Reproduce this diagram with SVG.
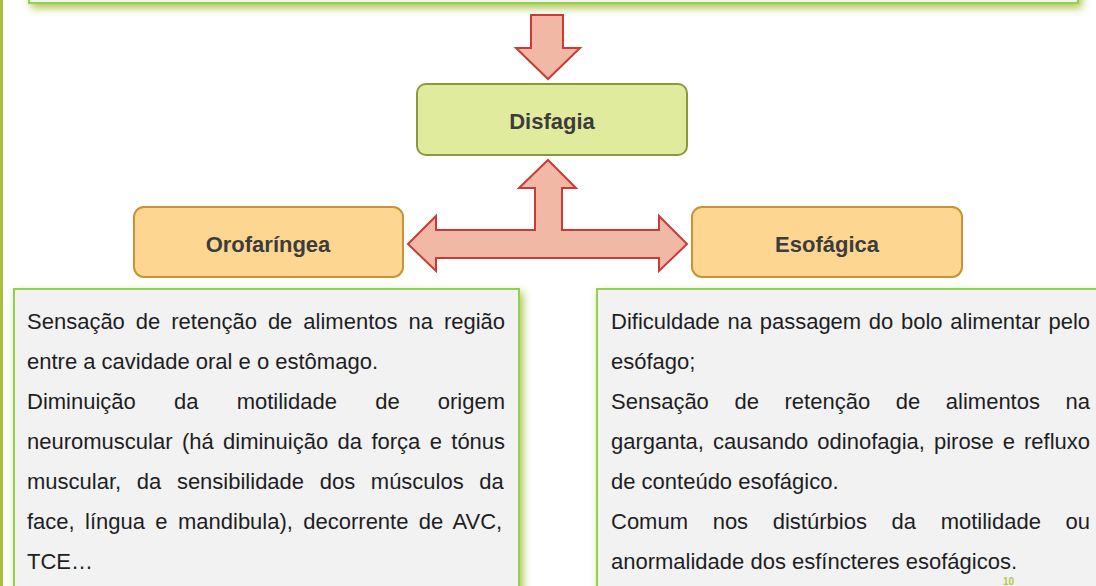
<svg xmlns="http://www.w3.org/2000/svg" width="1096" height="586" viewBox="0 0 1096 586">
<defs>
<filter id="glow" x="-10%" y="-10%" width="120%" height="130%">
<feGaussianBlur in="SourceAlpha" stdDeviation="4" result="b"/>
<feOffset in="b" dx="3" dy="4" result="o"/>
<feFlood flood-color="#9dbb2c" flood-opacity="0.85"/>
<feComposite in2="o" operator="in" result="s"/>
<feMerge><feMergeNode in="s"/><feMergeNode in="SourceGraphic"/></feMerge>
</filter>
</defs>
<style>
.panel{fill:#f2f2f2;stroke:#92d050;stroke-width:2}
.green{fill:#e1eb9d;stroke:#8a9a3a;stroke-width:2}
.orange{fill:#fdd792;stroke:#c99236;stroke-width:2}
.arrow{fill:#f2b8a6;stroke:#cc3a36;stroke-width:2;stroke-linejoin:miter}
.lbl{font-family:"Liberation Sans",Arial,sans-serif;font-weight:bold;font-size:22px;fill:#3c3c3c;text-anchor:middle}
.t{font-family:"Liberation Sans",Arial,sans-serif;font-size:22px;fill:#1e1e24}
</style>
<rect x="0" y="0" width="3" height="586" fill="#a8c03a"/>
<g id="top-box">
<rect class="panel" x="29" y="-60" width="1049" height="63" filter="url(#glow)"/>
</g>
<g id="connectors">
<path class="arrow" d="M531,15 H563 V48 H580 L548,79 L516,48 H531 Z"/>
<path class="arrow" d="M548,160 L576,188 H562 V230 H659 V216 L687,244 L659,271 V258 H436 V271 L408,244 L436,216 V230 H535 V188 H519 Z"/>
</g>
<g id="disfagia">
<rect class="green" x="417" y="84" width="270" height="71" rx="9"/>
<text class="lbl" x="552" y="129">Disfagia</text>
</g>
<g id="orofaringea">
<rect class="orange" x="134" y="207" width="269" height="70" rx="10"/>
<text class="lbl" x="268" y="252">Orofaríngea</text>
</g>
<g id="esofagica">
<rect class="orange" x="692" y="207" width="270" height="70" rx="10"/>
<text class="lbl" x="827" y="252">Esofágica</text>
</g>
<g id="left-panel">
<rect class="panel" x="14" y="289" width="505" height="320" filter="url(#glow)"/>
<text class="t" x="27" y="329" word-spacing="4.87">Sensação de retenção de alimentos na região</text>
<text class="t" x="27" y="369">entre a cavidade oral e o estômago.</text>
<text class="t" x="27" y="409" word-spacing="32.08">Diminuição da motilidade de origem</text>
<text class="t" x="27" y="449" word-spacing="3.25">neuromuscular (há diminuição da força e tónus</text>
<text class="t" x="27" y="489" word-spacing="9.52">muscular, da sensibilidade dos músculos da</text>
<text class="t" x="27" y="529" word-spacing="4.25">face, língua e mandibula), decorrente de AVC,</text>
<text class="t" x="27" y="569">TCE…</text>
</g>
<g id="right-panel">
<rect class="panel" x="597" y="289" width="520" height="320" filter="url(#glow)"/>
<text class="t" x="611" y="329" word-spacing="1.57">Dificuldade na passagem do bolo alimentar pelo</text>
<text class="t" x="611" y="369">esófago;</text>
<text class="t" x="611" y="409" word-spacing="19.49">Sensação de retenção de alimentos na</text>
<text class="t" x="611" y="449" word-spacing="2.86">garganta, causando odinofagia, pirose e refluxo</text>
<text class="t" x="611" y="489">de conteúdo esofágico.</text>
<text class="t" x="611" y="529" word-spacing="18.52">Comum nos distúrbios da motilidade ou</text>
<text class="t" x="611" y="569">anormalidade dos esfíncteres esofágicos.</text>
<text x="1003" y="585" font-family="Liberation Sans, Arial, sans-serif" font-size="10" font-weight="bold" fill="#b5c64a">10</text>
</g>
</svg>
